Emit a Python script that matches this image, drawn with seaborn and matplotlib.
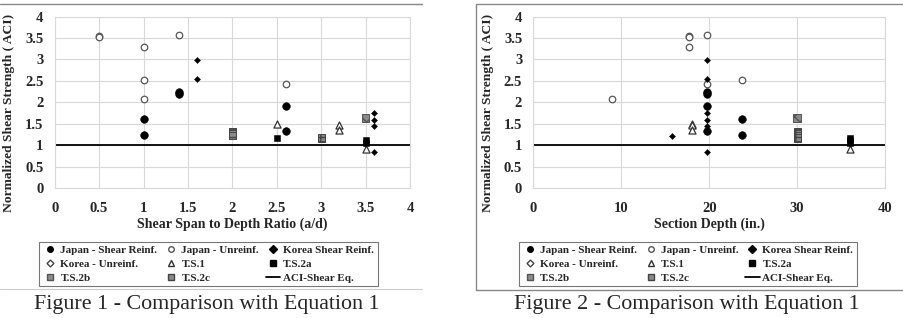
import numpy as np
import pandas as pd
import matplotlib.pyplot as plt
import seaborn as sns
from matplotlib.lines import Line2D

sns.set_style('white')
plt.rcParams['font.family'] = ['Liberation Serif', 'DejaVu Serif']

# data: (a/d, depth in., normalized strength)
japan_reinf_ad = [1.0, 1.0, 1.4, 1.4, 2.6, 2.6]
japan_reinf_d = [23.7, 23.7, 19.7, 19.7, 19.7, 19.7]
japan_reinf_v = [1.62, 1.23, 2.25, 2.20, 1.92, 1.34]

japan_unrein_ad = [0.5, 0.5, 1.0, 1.0, 1.0, 1.4, 2.6]
japan_unrein_d = [17.7, 17.7, 17.7, 23.7, 8.9, 19.7, 19.7]
japan_unrein_v = [3.55, 3.52, 3.28, 2.51, 2.07, 3.58, 2.42]

korea_reinf_ad = [1.6, 1.6, 2.0, 3.6, 3.6, 3.6, 3.6]
korea_reinf_d = [19.7, 19.7, 15.8, 19.7, 19.7, 19.7, 19.7]
korea_reinf_v = [2.98, 2.54, 1.22, 1.75, 1.58, 1.44, 0.84]

ts1_ad = [2.5, 3.2, 3.2, 3.5]
ts1_d = [18.0, 18.0, 18.0, 36.0]
ts1_v = [1.49, 1.48, 1.35, 0.92]

ts2a_ad = [2.5, 3.5, 3.5]
ts2a_d = [36.0, 36.0, 36.0]
ts2a_v = [1.17, 1.12, 1.06]

ts2b_ad = [3.5]
ts2b_d = [30.0]
ts2b_v = [1.63]

ts2c_ad = [2.0, 2.0, 2.0, 3.0, 3.0]
ts2c_d = [30.0, 30.0, 30.0, 30.0, 30.0]
ts2c_v = [1.33, 1.28, 1.23, 1.14, 1.18]

aci_level = 1.0

series = [
    ('Japan - Shear Reinf.', japan_reinf_ad, japan_reinf_d, japan_reinf_v,
     dict(marker='o', s=30, color='black', edgecolor='black')),
    ('Japan - Unreinf.', japan_unrein_ad, japan_unrein_d, japan_unrein_v,
     dict(marker='o', s=22, facecolor='white', edgecolor='#555555', linewidth=0.9)),
    ('Korea Shear Reinf.', korea_reinf_ad, korea_reinf_d, korea_reinf_v,
     dict(marker='D', s=10, color='black', edgecolor='black')),
    ('T.S.1', ts1_ad, ts1_d, ts1_v,
     dict(marker='^', s=26, facecolor='white', edgecolor='#333333', linewidth=0.9)),
    ('T.S.2a', ts2a_ad, ts2a_d, ts2a_v,
     dict(marker='s', s=24, color='black', edgecolor='black')),
    ('T.S.2b', ts2b_ad, ts2b_d, ts2b_v,
     dict(marker='s', s=32, facecolor='#8a8a8a', edgecolor='#555555', hatch='xxx', linewidth=0.7)),
    ('T.S.2c', ts2c_ad, ts2c_d, ts2c_v,
     dict(marker='s', s=24, facecolor='#8a8a8a', edgecolor='#444444', hatch='++', linewidth=0.7)),
]

fig = plt.figure(figsize=(9.04, 3.18), dpi=100)
ax1 = fig.add_axes([0.0605, 0.409, 0.393, 0.539])
ax2 = fig.add_axes([0.590, 0.409, 0.389, 0.539])

bold = dict(fontweight='bold', fontsize=10.5)

for ax, which, xmax, xstep, xlabel in [
        (ax1, 1, 4, 0.5, 'Shear Span to Depth Ratio (a/d)'),
        (ax2, 2, 40, 10, 'Section Depth (in.)')]:
    for name, ad, dep, v, kw in series:
        df = pd.DataFrame({'x': ad if which == 1 else dep, 'y': v})
        sns.scatterplot(data=df, x='x', y='y', ax=ax, legend=False, zorder=3, **kw)
    ax.axhline(aci_level, color='black', lw=1.3, zorder=2)
    ax.set_xlim(0, xmax)
    ax.set_ylim(0, 4)
    ax.set_xticks(np.arange(0, xmax + xstep / 2, xstep))
    ax.set_yticks(np.arange(0, 4.01, 0.5))
    ax.set_xticklabels([f'{t:g}' for t in ax.get_xticks()], **bold)
    ax.set_yticklabels([f'{t:g}' for t in ax.get_yticks()], **bold)
    ax.grid(True, color='#d9d9d9', lw=0.8)
    ax.set_axisbelow(True)
    for sp in ax.spines.values():
        sp.set_color('#d9d9d9')
        sp.set_linewidth(0.8)
    ax.tick_params(axis='x', length=0, pad=10)
    ax.tick_params(axis='y', length=0, pad=8)
    ax.set_xlabel(xlabel, fontweight='bold', fontsize=10, labelpad=2)
    ax.set_ylabel('Normalized Shear Strength ( ACI)', fontweight='bold', fontsize=9.7)
    ax.yaxis.set_label_coords(-0.113, 0.44)

# legend, filled row by row in the original -> reorder for column filling
h = {}
for name, ad, dep, v, kw in series:
    mk = dict(marker=kw['marker'], linestyle='none',
              markerfacecolor=kw.get('facecolor', kw.get('color')),
              markeredgecolor=kw.get('edgecolor'), markersize=4)
    h[name] = Line2D([], [], **mk)
h['Korea - Unreinf.'] = Line2D([], [], marker='D', linestyle='none', markersize=3.5,
                               markerfacecolor='white', markeredgecolor='#444444')
h['ACI-Shear Eq.'] = Line2D([], [], color='black', lw=1.3)
order = ['Japan - Shear Reinf.', 'Korea - Unreinf.', 'T.S.2b',
         'Japan - Unreinf.', 'T.S.1', 'T.S.2c',
         'Korea Shear Reinf.', 'T.S.2a', 'ACI-Shear Eq.']

for x0, x1 in [(44, 373), (523, 853)]:
    leg = fig.legend([h[k] for k in order], order, ncol=3,
                     loc='center', bbox_to_anchor=((x0 + x1) / 2 / 904, 1 - 264 / 318),
                     prop=dict(family='Liberation Serif', weight='bold', size=8),
                     frameon=True, fancybox=False, handlelength=1.3, handletextpad=0.25,
                     columnspacing=0.6, borderpad=0.35, labelspacing=0.35, borderaxespad=0)
    leg.get_frame().set_edgecolor('#555555')
    leg.get_frame().set_linewidth(0.8)

# frames and captions of the page
fig.add_artist(Line2D([0, 422 / 904], [1 - 4 / 318] * 2, color='#888888', lw=1.0))
fig.add_artist(Line2D([0, 422 / 904], [1 - 289 / 318] * 2, color='#cccccc', lw=0.8))
fig.add_artist(plt.Rectangle((475.7 / 904, 1 - 290 / 318), 1 - 475.7 / 904 + 0.01, 286 / 318,
                             fill=False, edgecolor='#888888', lw=1.0))
fig.text(207 / 904, 1 - 305 / 318, 'Figure 1 - Comparison with Equation 1',
         ha='center', va='center', fontsize=15.8)
fig.text(687 / 904, 1 - 305 / 318, 'Figure 2 - Comparison with Equation 1',
         ha='center', va='center', fontsize=15.8)

fig.savefig('out.png', dpi=100)
